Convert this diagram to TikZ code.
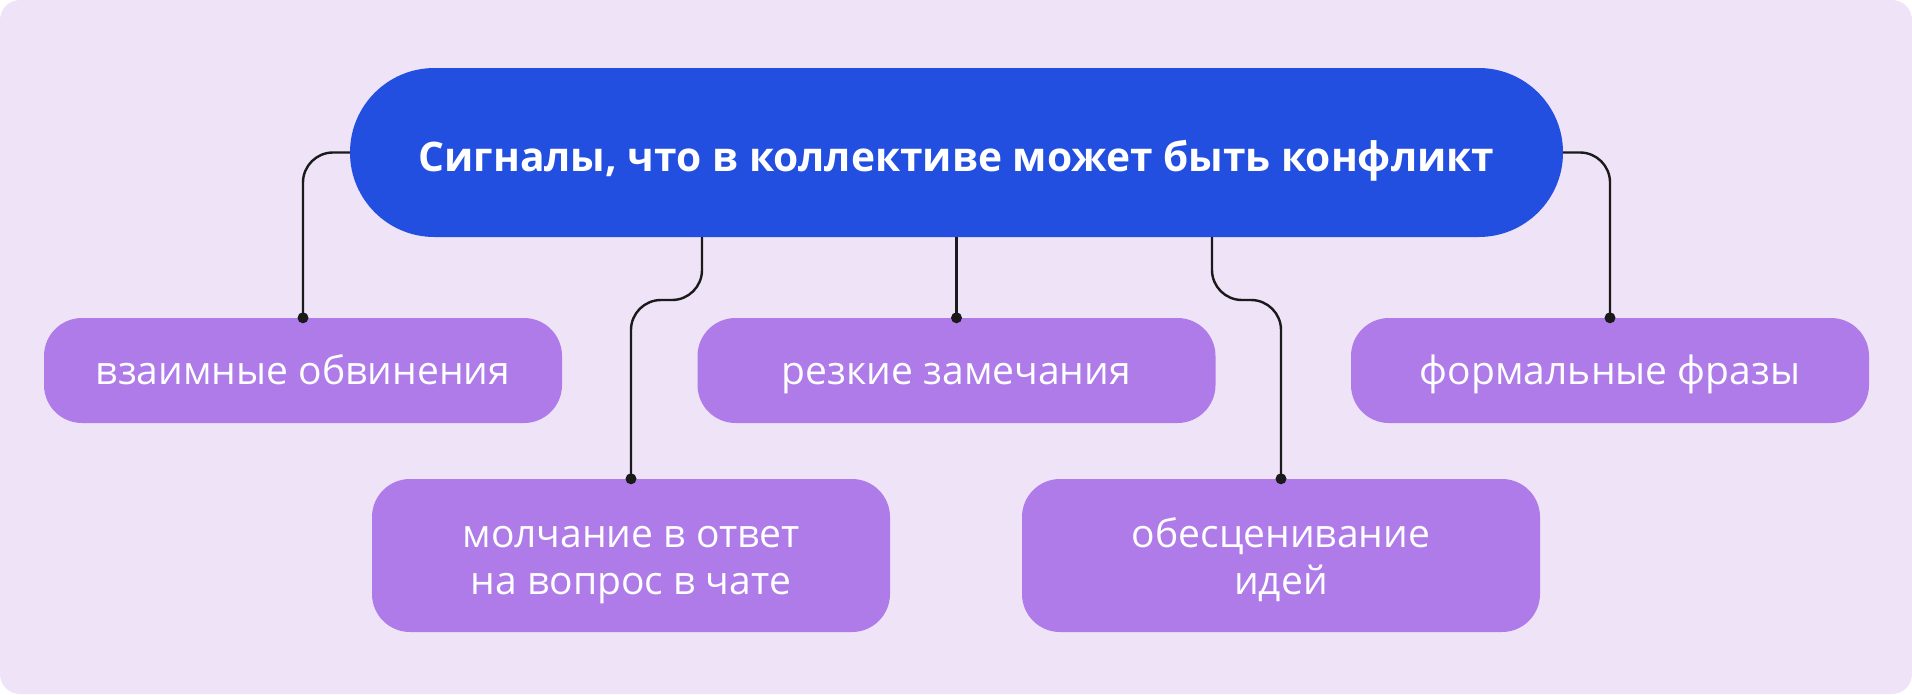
\documentclass[tikz,border=0pt]{standalone}
\usepackage{fontspec}
\setmainfont{Open Sans}
\usetikzlibrary{calc}
\definecolor{bg}{HTML}{EFE3F8}
\definecolor{mainblue}{HTML}{234FE0}
\definecolor{boxviolet}{HTML}{AE7BE8}
\definecolor{linecol}{HTML}{1A1A1A}
\tikzset{
  mainbox/.style={rectangle, rounded corners=84.4pt, fill=mainblue, text=white,
    minimum width=1213pt, minimum height=169pt, inner sep=0pt,
    text height=37pt, text depth=0pt,
    font=\fontsize{40.7}{48}\selectfont\bfseries},
  childbox/.style={rectangle, rounded corners=38pt, fill=boxviolet, text=white,
    minimum width=518pt, minimum height=105pt, inner sep=0pt, align=center,
    text height=27pt, text depth=0pt,
    font=\fontsize{39}{46.5}\selectfont},
  tallbox/.style={childbox, minimum height=153pt, text height=77pt, text depth=0pt},
  conn/.style={draw=linecol, line width=2.4pt, rounded corners=30pt},
  dot/.style={fill=linecol}
}
\begin{document}
\begin{tikzpicture}[x=1pt,y=-1pt]
\useasboundingbox (0,0) rectangle (1912,694);
\fill[white] (0,0) rectangle (1912,694);
\fill[bg, rounded corners=20pt] (0,0) rectangle (1912,694);

\node[mainbox] (main) at (956.5,152.5) {Сигналы, что в коллективе может быть конфликт};

\node[childbox] (b1) at (303,370.5) {взаимные обвинения};
\node[childbox] (b2) at (956.5,370.5) {резкие замечания};
\node[childbox] (b3) at (1610,370.5) {формальные фразы};
\node[tallbox] (b4) at (631,555.5) {молчание в ответ\\на вопрос в чате};
\node[tallbox] (b5) at (1281,555.5) {обесценивание\\идей};

\coordinate (m4) at (702,237);
\coordinate (m5) at (1212,237);
\coordinate (j4) at (631,300);
\coordinate (j5) at (1281,300);

\draw[conn] (main.west) -| (b1.north);
\draw[conn] (main.east) -| (b3.north);
\draw[conn] (main.south) -- (b2.north);
\draw[conn] (m4) |- (j4) -- (b4.north);
\draw[conn] (m5) |- (j5) -- (b5.north);

\foreach \b in {b1,b2,b3,b4,b5}
  \fill[dot] (\b.north) circle (5.5pt);
\end{tikzpicture}
\end{document}
